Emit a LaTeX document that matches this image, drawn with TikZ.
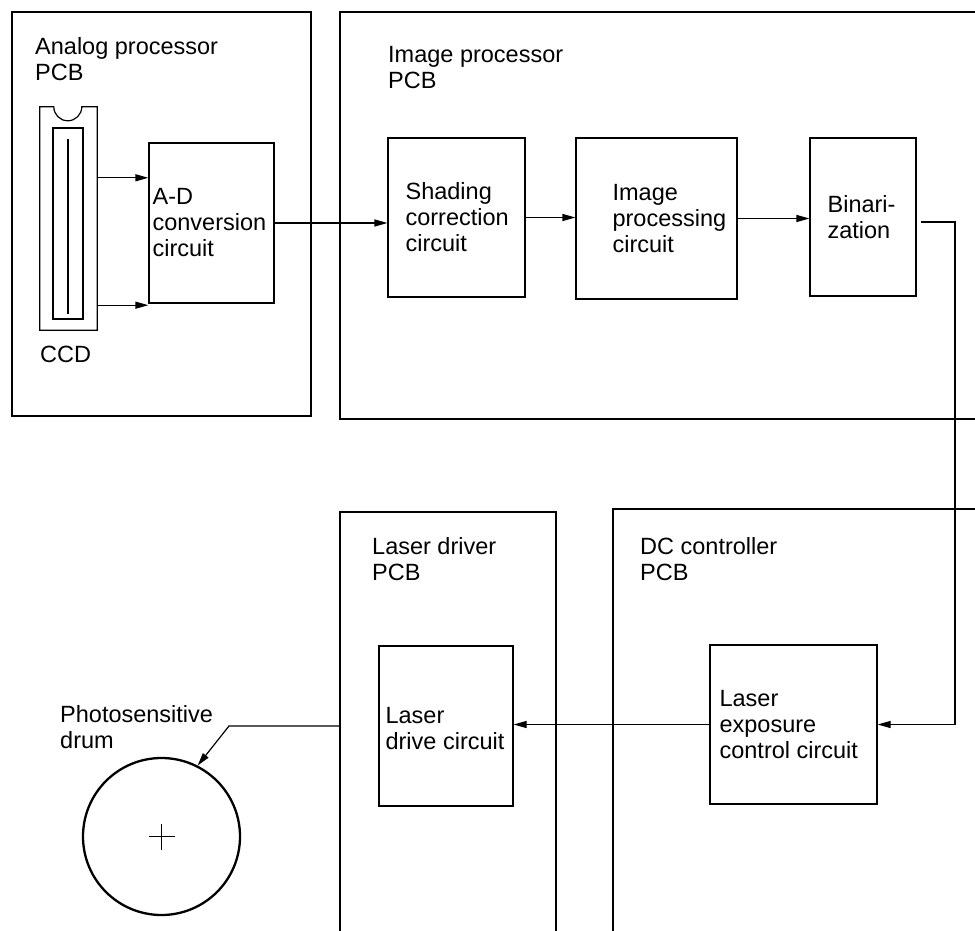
\documentclass[tikz,border=0pt]{standalone}
\usepackage{fontspec}
\setmainfont{Liberation Sans}
\usetikzlibrary{arrows.meta, positioning, calc}

\begin{document}
\begin{tikzpicture}[x=1pt, y=-1pt,
	pcb/.style={line width=2.6pt},
	blk/.style={draw, line width=1.2pt, inner sep=0pt},
	lbl/.style={inner sep=0pt, align=left, font=\fontsize{23.5}{26}\selectfont},
	arr/.style={line width=1.2pt, -{Triangle[length=13pt,width=7pt]}}]
	\useasboundingbox (0,0) rectangle (975,931);
	% boards
	\draw[pcb] (12,12) rectangle (311,416);
	\draw[pcb] (975,12) -- (340,12) -- (340,419) -- (975,419);
	\draw[pcb] (340,931) -- (340,512) -- (556,512) -- (556,931);
	\draw[pcb] (613,931) -- (613,509) -- (975,509);
	\node[lbl, anchor=west] (t-ana) at (35,59) {Analog processor\\PCB};
	\node[lbl, anchor=west] (t-img) at (388,68) {Image processor\\PCB};
	\node[lbl, anchor=west] (t-ldp) at (372,559) {Laser driver\\PCB};
	\node[lbl, anchor=west] (t-dcc) at (640,559) {DC controller\\PCB};
	% CCD
	\node[minimum width=57pt, minimum height=223pt, inner sep=0pt] (ccd) at (68.5,218.5) {};
	\draw[line width=1.2pt] (ccd.south west) -- (ccd.north west) -- ++(14,0)
		arc[start angle=180, end angle=0, radius=14] -- (ccd.north east) -- (ccd.south east) -- cycle;
	\draw[line width=1.2pt] (53,128) rectangle (83,319);
	\draw[line width=2.2pt] (68,139) -- (68,314);
	\node[lbl, anchor=west] (t-ccd) at (40,354) {CCD};
	% circuits
	\node[blk, minimum width=125pt, minimum height=160pt] (ad) at (211.5,223) {};
	\node[blk, minimum width=137pt, minimum height=159pt] (shd) at (456.5,217.5) {};
	\node[blk, minimum width=161pt, minimum height=161pt] (img) at (656.5,218.5) {};
	\node[blk, minimum width=106pt, minimum height=158pt] (bin) at (863,217) {};
	\node[blk, minimum width=134pt, minimum height=160pt] (ldrv) at (446,726) {};
	\node[blk, minimum width=167pt, minimum height=159pt] (lexp) at (793.5,724.5) {};
	\node[lbl, right=4pt of ad.west] {A-D\\conversion\\circuit};
	\node[lbl, right=18pt of shd.west] {Shading\\correction\\circuit};
	\node[lbl, right=37pt of img.west] {Image\\processing\\circuit};
	\node[lbl, right=18pt of bin.west] {Binari-\\zation};
	\node[lbl, right=7pt of ldrv.west, yshift=-3pt] {Laser\\drive circuit};
	\node[lbl, right=10pt of lexp.west] {Laser\\exposure\\control circuit};
	% drum
	\node[draw, circle, line width=2.3pt, minimum size=157pt, inner sep=0pt] (drum) at (161.5,836.5) {};
	\draw[line width=1pt] ([xshift=-13pt]drum.center) -- ([xshift=13pt]drum.center);
	\draw[line width=1pt] ([yshift=-13pt]drum.center) -- ([yshift=13pt]drum.center);
	\node[lbl, anchor=west] (t-drum) at (60,727) {Photosensitive\\drum};
	% signal path
	\draw[arr] ([yshift=-71pt]ccd.north east) coordinate (c1) -- (c1 -| ad.west);
	\draw[arr] ([yshift=25pt]ccd.south east) coordinate (c2) -- (c2 -| ad.west);
	\draw[arr] (ad.east) -- (ad.east -| shd.west);
	\draw[arr] (shd.east) -- (shd.east -| img.west);
	\draw[arr] (img.east) -- (img.east -| bin.west);
	\coordinate (turn) at (955,222);
	\draw[arr] ([shift={(4pt,-5pt)}]bin.east) -- (turn) |- (lexp.east);
	\draw[arr] (lexp.west) -- (lexp.west -| ldrv.east);
	\coordinate (lead) at (340,726);
	\draw[arr] (lead) -- (229,726) -- (drum.63);
\end{tikzpicture}
\end{document}
